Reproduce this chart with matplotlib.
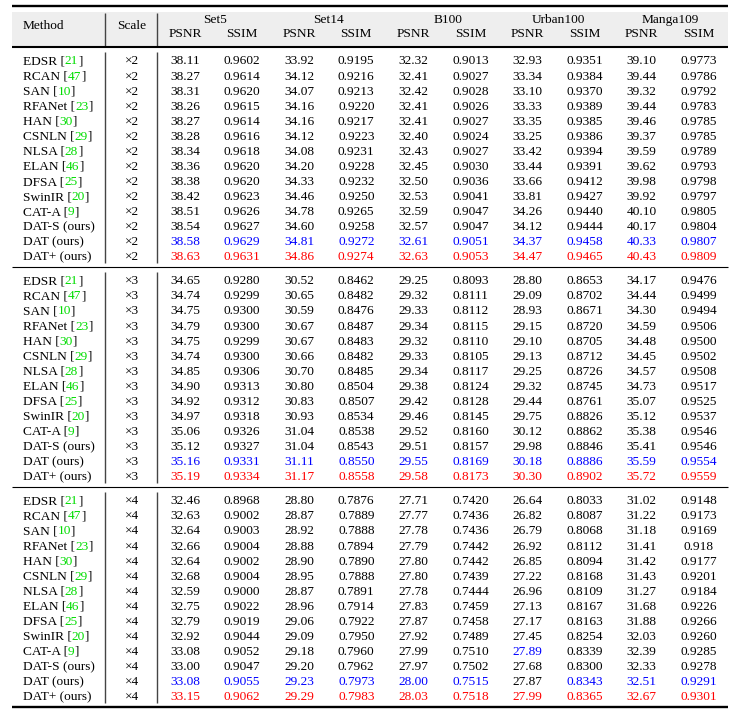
import matplotlib.pyplot as plt

plt.rcParams['font.family'] = ['Liberation Serif', 'DejaVu Serif']

# --- table data ---
methods = ['EDSR', 'RCAN', 'SAN', 'RFANet', 'HAN', 'CSNLN', 'NLSA', 'ELAN',
           'DFSA', 'SwinIR', 'CAT-A', 'DAT-S', 'DAT', 'DAT+']
refs = ['21', '47', '10', '23', '30', '29', '28', '46', '25', '20', '9',
        None, None, None]
datasets = ['Set5', 'Set14', 'B100', 'Urban100', 'Manga109']
scales = ['×2', '×3', '×4']

# each row: Set5 PSNR/SSIM, Set14, B100, Urban100, Manga109
x2_rows = [
    ['38.11', '0.9602', '33.92', '0.9195', '32.32', '0.9013', '32.93', '0.9351', '39.10', '0.9773'],
    ['38.27', '0.9614', '34.12', '0.9216', '32.41', '0.9027', '33.34', '0.9384', '39.44', '0.9786'],
    ['38.31', '0.9620', '34.07', '0.9213', '32.42', '0.9028', '33.10', '0.9370', '39.32', '0.9792'],
    ['38.26', '0.9615', '34.16', '0.9220', '32.41', '0.9026', '33.33', '0.9389', '39.44', '0.9783'],
    ['38.27', '0.9614', '34.16', '0.9217', '32.41', '0.9027', '33.35', '0.9385', '39.46', '0.9785'],
    ['38.28', '0.9616', '34.12', '0.9223', '32.40', '0.9024', '33.25', '0.9386', '39.37', '0.9785'],
    ['38.34', '0.9618', '34.08', '0.9231', '32.43', '0.9027', '33.42', '0.9394', '39.59', '0.9789'],
    ['38.36', '0.9620', '34.20', '0.9228', '32.45', '0.9030', '33.44', '0.9391', '39.62', '0.9793'],
    ['38.38', '0.9620', '34.33', '0.9232', '32.50', '0.9036', '33.66', '0.9412', '39.98', '0.9798'],
    ['38.42', '0.9623', '34.46', '0.9250', '32.53', '0.9041', '33.81', '0.9427', '39.92', '0.9797'],
    ['38.51', '0.9626', '34.78', '0.9265', '32.59', '0.9047', '34.26', '0.9440', '40.10', '0.9805'],
    ['38.54', '0.9627', '34.60', '0.9258', '32.57', '0.9047', '34.12', '0.9444', '40.17', '0.9804'],
    ['38.58', '0.9629', '34.81', '0.9272', '32.61', '0.9051', '34.37', '0.9458', '40.33', '0.9807'],
    ['38.63', '0.9631', '34.86', '0.9274', '32.63', '0.9053', '34.47', '0.9465', '40.43', '0.9809'],
]
x3_rows = [
    ['34.65', '0.9280', '30.52', '0.8462', '29.25', '0.8093', '28.80', '0.8653', '34.17', '0.9476'],
    ['34.74', '0.9299', '30.65', '0.8482', '29.32', '0.8111', '29.09', '0.8702', '34.44', '0.9499'],
    ['34.75', '0.9300', '30.59', '0.8476', '29.33', '0.8112', '28.93', '0.8671', '34.30', '0.9494'],
    ['34.79', '0.9300', '30.67', '0.8487', '29.34', '0.8115', '29.15', '0.8720', '34.59', '0.9506'],
    ['34.75', '0.9299', '30.67', '0.8483', '29.32', '0.8110', '29.10', '0.8705', '34.48', '0.9500'],
    ['34.74', '0.9300', '30.66', '0.8482', '29.33', '0.8105', '29.13', '0.8712', '34.45', '0.9502'],
    ['34.85', '0.9306', '30.70', '0.8485', '29.34', '0.8117', '29.25', '0.8726', '34.57', '0.9508'],
    ['34.90', '0.9313', '30.80', '0.8504', '29.38', '0.8124', '29.32', '0.8745', '34.73', '0.9517'],
    ['34.92', '0.9312', '30.83', '0.8507', '29.42', '0.8128', '29.44', '0.8761', '35.07', '0.9525'],
    ['34.97', '0.9318', '30.93', '0.8534', '29.46', '0.8145', '29.75', '0.8826', '35.12', '0.9537'],
    ['35.06', '0.9326', '31.04', '0.8538', '29.52', '0.8160', '30.12', '0.8862', '35.38', '0.9546'],
    ['35.12', '0.9327', '31.04', '0.8543', '29.51', '0.8157', '29.98', '0.8846', '35.41', '0.9546'],
    ['35.16', '0.9331', '31.11', '0.8550', '29.55', '0.8169', '30.18', '0.8886', '35.59', '0.9554'],
    ['35.19', '0.9334', '31.17', '0.8558', '29.58', '0.8173', '30.30', '0.8902', '35.72', '0.9559'],
]
x4_rows = [
    ['32.46', '0.8968', '28.80', '0.7876', '27.71', '0.7420', '26.64', '0.8033', '31.02', '0.9148'],
    ['32.63', '0.9002', '28.87', '0.7889', '27.77', '0.7436', '26.82', '0.8087', '31.22', '0.9173'],
    ['32.64', '0.9003', '28.92', '0.7888', '27.78', '0.7436', '26.79', '0.8068', '31.18', '0.9169'],
    ['32.66', '0.9004', '28.88', '0.7894', '27.79', '0.7442', '26.92', '0.8112', '31.41', '0.918'],
    ['32.64', '0.9002', '28.90', '0.7890', '27.80', '0.7442', '26.85', '0.8094', '31.42', '0.9177'],
    ['32.68', '0.9004', '28.95', '0.7888', '27.80', '0.7439', '27.22', '0.8168', '31.43', '0.9201'],
    ['32.59', '0.9000', '28.87', '0.7891', '27.78', '0.7444', '26.96', '0.8109', '31.27', '0.9184'],
    ['32.75', '0.9022', '28.96', '0.7914', '27.83', '0.7459', '27.13', '0.8167', '31.68', '0.9226'],
    ['32.79', '0.9019', '29.06', '0.7922', '27.87', '0.7458', '27.17', '0.8163', '31.88', '0.9266'],
    ['32.92', '0.9044', '29.09', '0.7950', '27.92', '0.7489', '27.45', '0.8254', '32.03', '0.9260'],
    ['33.08', '0.9052', '29.18', '0.7960', '27.99', '0.7510', '27.89', '0.8339', '32.39', '0.9285'],
    ['33.00', '0.9047', '29.20', '0.7962', '27.97', '0.7502', '27.68', '0.8300', '32.33', '0.9278'],
    ['33.08', '0.9055', '29.23', '0.7973', '28.00', '0.7515', '27.87', '0.8343', '32.51', '0.9291'],
    ['33.15', '0.9062', '29.29', '0.7983', '28.03', '0.7518', '27.99', '0.8365', '32.67', '0.9301'],
]
all_rows = [x2_rows, x3_rows, x4_rows]

# best = red (DAT+ row), second = blue (DAT row), with a few exceptions
color_fix = {(2, 10, 6): 'blue', (2, 12, 6): 'black'}

FS = 9.6
GREEN = '#00dd00'
BLUE = '#0000ff'
RED = '#ff0000'
BLACK = '#000000'

fig = plt.figure(figsize=(7.49, 7.14), dpi=100)
ax = fig.add_axes([0, 0, 1, 1])
ax.set_xlim(0, 749)
ax.set_ylim(714, 0)
ax.axis('off')

X0, X1 = 12, 728
col_x = [185 + 57.1 * j for j in range(10)]
group_x = [215.5, 328, 448, 558, 670.5]
method_x = 23
scale_x = 132
vline_x = [105, 157]
row_h = 15.07
sec_first = [64.5, 284.3, 504.3]
sec_rules = [47.2, 266.8, 487.2, 707.2]

# header
ax.fill_between([X0, X1], 12, 45.5, color='#eeeeee', lw=0, zorder=0)
ax.text(method_x, 29.3, 'Method', fontsize=FS, va='baseline', ha='left')
ax.text(scale_x, 29.3, 'Scale', fontsize=FS, va='baseline', ha='center')
for g, name in enumerate(datasets):
    ax.text(group_x[g], 22.7, name, fontsize=FS, va='baseline', ha='center')
    ax.text(col_x[2 * g], 36.7, 'PSNR', fontsize=FS, va='baseline', ha='center')
    ax.text(col_x[2 * g + 1], 36.7, 'SSIM', fontsize=FS, va='baseline', ha='center')
ax.vlines(vline_x, 12.5, 46, color='#444444', lw=1.0)

# rules
ax.hlines(6.2, X0, X1, color='black', lw=1.7)
ax.hlines(sec_rules[0], X0, X1, color='black', lw=1.5)
ax.hlines(sec_rules[1:3], X0, X1, color='black', lw=0.8)
ax.hlines(sec_rules[3], X0, X1, color='black', lw=1.7)

# body
for s, rows in enumerate(all_rows):
    ax.vlines(vline_x, sec_rules[s] + 5, sec_rules[s + 1] - 4, color='#444444', lw=1.0)
    for i, row in enumerate(rows):
        yb = sec_first[s] + i * row_h
        if refs[i] is not None:
            t = ax.text(method_x, yb, methods[i] + ' [', fontsize=FS, va='baseline', ha='left')
            t2 = ax.annotate(refs[i], xy=(1, 0), xycoords=t, fontsize=FS,
                             va='bottom', ha='left', color=GREEN)
            ax.annotate(']', xy=(1, 0), xycoords=t2, fontsize=FS, va='bottom', ha='left')
        else:
            ax.text(method_x, yb, methods[i] + ' (ours)', fontsize=FS, va='baseline', ha='left')
        ax.text(scale_x, yb, scales[s], fontsize=FS, va='baseline', ha='center')
        for j, val in enumerate(row):
            c = BLACK
            if i == 13:
                c = RED
            elif i == 12:
                c = BLUE
            c = {'blue': BLUE, 'black': BLACK}.get(color_fix.get((s, i, j)), c)
            ax.text(col_x[j], yb, val, fontsize=FS, va='baseline', ha='center', color=c)

fig.savefig('out.png', dpi=100)
